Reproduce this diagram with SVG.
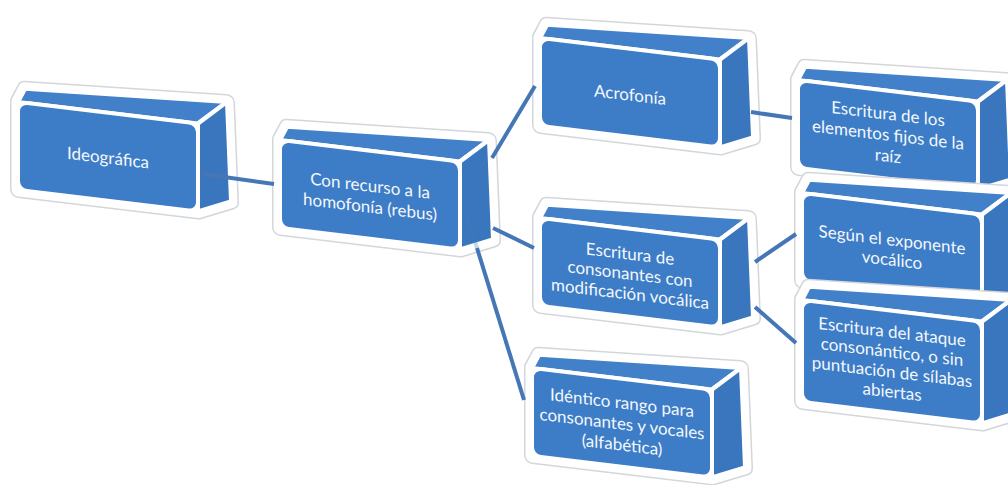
<svg xmlns="http://www.w3.org/2000/svg" xmlns:xlink="http://www.w3.org/1999/xlink" width="1008" height="485" viewBox="0 0 1008 485">
  <style>
    .halo-o { fill: #ffffff; stroke: #d3d6da; stroke-width: 16; stroke-linejoin: round; }
    .halo-i { fill: #ffffff; stroke: #ffffff; stroke-width: 13; stroke-linejoin: round; }
    .face { fill: #3d7dc7; stroke: #ffffff; stroke-width: 4; stroke-linejoin: round; }
    .side { fill: #3a76bd; stroke: #ffffff; stroke-width: 4; stroke-linejoin: round; }
    .top { fill: #4281ca; stroke: #ffffff; stroke-width: 4; stroke-linejoin: round; }
    .lbl { font-family: Lato, "Open Sans", sans-serif; font-size: 17px; fill: #f4f7fb; text-anchor: middle; }
    .link { stroke: #4577b6; stroke-width: 4; fill: none; stroke-linecap: butt; }
  </style>
  <defs>
    <!-- 3D block, front face 180 x 88 -->
    <g id="block">
      <path class="halo-o" d="M0,0 L7,-14 L209,-25 L213,74 L180,88 L0,88 Z"/>
      <path class="halo-i" d="M0,0 L7,-14 L209,-25 L213,74 L180,88 L0,88 Z"/>
      <path class="top" d="M0,0 L7,-14 L209,-25 L180,0 Z"/>
      <path class="side" d="M180,0 L209,-25 L213,74 L180,88 Z"/>
      <rect class="face" x="0" y="0" width="180" height="88" rx="9"/>
    </g>
    <!-- taller variant, front face 180 x 102 -->
    <g id="block-tall">
      <path class="halo-o" d="M0,0 L7,-14 L209,-25 L213,88 L180,102 L0,102 Z"/>
      <path class="halo-i" d="M0,0 L7,-14 L209,-25 L213,88 L180,102 L0,102 Z"/>
      <path class="top" d="M0,0 L7,-14 L209,-25 L180,0 Z"/>
      <path class="side" d="M180,0 L209,-25 L213,88 L180,102 Z"/>
      <rect class="face" x="0" y="0" width="180" height="102" rx="9"/>
    </g>
  </defs>

  <g id="node-ideografica" transform="translate(18,102) skewY(6.8)">
    <use href="#block"/>
    <text class="lbl" x="90" y="51">Ideográfica</text>
  </g>

  <g id="node-homofonia" transform="translate(280,140) skewY(6.8)">
    <use href="#block"/>
    <text class="lbl" x="90" y="41">Con recurso a la</text>
    <text class="lbl" x="90" y="62">homofonía (rebus)</text>
  </g>

  <g id="node-acrofonia" transform="translate(540,38) skewY(6.8)">
    <use href="#block"/>
    <text class="lbl" x="90" y="52">Acrofonía</text>
  </g>

  <g id="node-consonantes" transform="translate(540,218) skewY(6.8)">
    <use href="#block"/>
    <text class="lbl" x="90" y="31">Escritura de</text>
    <text class="lbl" x="90" y="51">consonantes con</text>
    <text class="lbl" x="90" y="71">modificación vocálica</text>
  </g>

  <g id="node-identico" transform="translate(532,368) skewY(6.8)">
    <use href="#block"/>
    <text class="lbl" x="90" y="30">Idéntico rango para</text>
    <text class="lbl" x="90" y="51">consonantes y vocales</text>
    <text class="lbl" x="90" y="72">(alfabética)</text>
  </g>

  <g id="node-raiz" transform="translate(798,80) skewY(6.8)">
    <use href="#block"/>
    <text class="lbl" x="90" y="29">Escritura de los</text>
    <text class="lbl" x="90" y="50">elementos fijos de la</text>
    <text class="lbl" x="90" y="71">raíz</text>
  </g>

  <g id="node-exponente" transform="translate(802,193) skewY(6.8)">
    <use href="#block"/>
    <text class="lbl" x="90" y="42">Según el exponente</text>
    <text class="lbl" x="90" y="62">vocálico</text>
  </g>

  <g id="node-ataque" transform="translate(802,300) skewY(6.8)">
    <use href="#block-tall"/>
    <text class="lbl" x="90" y="27">Escritura del ataque</text>
    <text class="lbl" x="90" y="47">consonántico, o sin</text>
    <text class="lbl" x="90" y="67">puntuación de sílabas</text>
    <text class="lbl" x="90" y="87">abiertas</text>
  </g>

  <g id="connectors">
    <path class="link" d="M203,174 L274,184"/>
    <path class="link" d="M492,158 L535,86"/>
    <path class="link" d="M493,228 L534,248"/>
    <path class="link" d="M466,212 L477,248" opacity="0.3"/>
    <path class="link" d="M477,248 L524,400"/>
    <path class="link" d="M751,112 L792,118"/>
    <path class="link" d="M755,262 L796,234"/>
    <path class="link" d="M755,307 L796,343"/>
  </g>
</svg>
